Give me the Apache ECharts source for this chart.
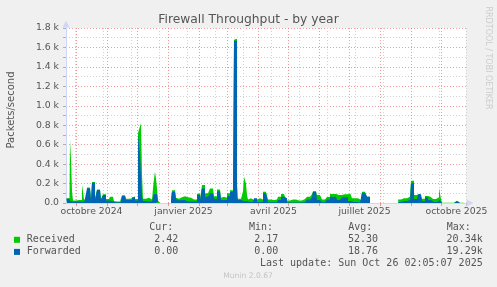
<!DOCTYPE html>
<html><head><meta charset="utf-8">
<script src="https://cdn.jsdelivr.net/npm/echarts@6/dist/echarts.min.js"></script>
<style>html,body{margin:0;padding:0;background:#f0f0f0;}#c{width:497px;height:287px;}</style>
</head><body><div id="c"></div>
<script>
// first day shown (one value per day, 400 days up to Oct 26 2025)
const START_DATE = '2024-09-21';

// Received packets/s per day (null = no data)
const received = [].concat(
  [50,50,50,50, 650,450, 120, 25,30,25,20,25,30,25,25,30],
  [185,120, 35,35,35, 160,160,160,160, 45, 215,215,215, 50,50],
  [140,140,140,140, 45,45, 90,90,90, 40,40,40, 55,65,60,65,55],
  [20,20,15,20,20,15,20, 35, 80,80,80,80, 45,50,45,40,45,50],
  [70,70,70, 40,40,40, 720,740,790,820,300, 45,45,45, 55,55,55,55],
  [35,35,35, 150,250,322,250,150, 25,25],
  [null,null,null,null,null,null,null,null,null,null,null],
  [45, 130,130,130,130, 55, 55,45,65,50,60,40,55,70,50],
  [60,60,55,60,55, 35,35,35,35,35,35, 95,95,95, 45,45, 185,185,185],
  [100,100,100,100,100, 150,150,150,150, 70,70,70, 140,140,140,140],
  [55,55,65,65,55,55, 100,100,100, 130,130,130,130, 1680,1680,1690, 200],
  [45,45,45,45,45, 120,270,270,200,80],
  [35,40,50,50,35,30,35,45,35,30,40,50,50,35,35, 115,115,115,115,115],
  [35,30,35,30,35,30,35,30,35,30, 65,65,65, 93,93,93,93, 65,65],
  [25,25,25,25,25, 35,35,35,35,35, 25,25,35,25,25,25, 40,40,40,40],
  [65,65,65,65,65, 90, 120,120,120,120, 82,82,82,82,82, 35,35,35,35,35],
  [62,62,62, 93,93,93,93,93,93,93, 82,82,82,82,82, 89,89,89,89,89,89],
  [93,93,93,93, 50,50,50,50,50,50, 30,30,30,30, 115,115,115,115,115, 65,65,65],
  [null,null,null,null,null,null,null,null,null,null,null,null,null,null,
   null,null,null,null,null,null,null,null,null,null,null,null,null,null],
  [35,35,35,35, 50,50,50,50,50, 65,65,65,65, 230,230,230, 82,82,82,82],
  [95,95,95,95, 45,45,45, 72,72,72, 65,65,65,65,65, 40,40,40,40,40, 60,151,151,40],
  [2,2,2,2,2,2,2,2,2,2,2,2,2,2, 22,22, 2,2,2,2,2,2,2,2]
);

// Forwarded packets/s per day (null = no data)
const forwarded = [].concat(
  [45,45,45,45, 20,20, 15, 13,13,15,10,13,15,13,12,13],
  [20,20, 20,20,20, 151,151,151,151, 30, 209,209,209, 35,35],
  [134,134,134,134, 30,30, 82,82,82, 25,25,25, 20,20,20,20,20],
  [8,8,5,8,8,5,8, 20, 72,72,72,72, 30,30,30,25,30,30],
  [60,60,60, 25,25,25, 710,710,490,490,60, 20,20,20, 15,15,15,15],
  [15,15,15, 60,93,93,90,70, 10,10],
  [null,null,null,null,null,null,null,null,null,null,null],
  [30, 117,117,117,117, 40, 30,25,35,20,30,20,25,30,20],
  [15,15,15,15,15, 15,15,15,15,15,15, 85,85,85, 30,30, 150,150,150],
  [65,65,65,65,65, 100,100,100,100, 45,45,45, 122,122,122,122],
  [30,30,30,30,30,30, 70,70,70, 117,117,117,117, 1670,1670,1670, 60],
  [30,30,30,30,30, 20,20,20,20,20],
  [10,10,10,10,10,10,48,48,48,10,10,10,10,10,10, 100,100,100,100,100],
  [8,8,8,8,8,8,8,8,8,8, 30,30,30, 65,65,65,65, 48,48],
  [5,5,5,5,5, 5,5,5,5,5, 5,5,5,5,5,5, 8,8,8,8],
  [35,35,35,35,35, 60, 117,117,117,117, 30,30,30,30,30, 8,8,8,8,8],
  [35,35,35, 65,65,65,65,65,65,65, 30,30,30,30,30, 58,58,58,58,58,58],
  [20,20,20,20, 10,10,10,10,10,10, 5,5,5,5, 106,106,106,106,106, 65,65,65],
  [null,null,null,null,null,null,null,null,null,null,null,null,null,null,
   null,null,null,null,null,null,null,null,null,null,null,null,null,null],
  [10,10,10,10, 20,20,20,20,20, 30,30,30,30, 202,202,202, 40,40,40,40],
  [90,90,90,90, 20,20,20, 58,58,58, 30,30,30,30,30, 10,10,10,10,10, 30,30,30,30],
  [1,1,1,1,1,1,1,1,1,1,1,1,1,1, 20,20, 1,1,1,1,1,1,1,1]
);

const tickLabels = ['octobre 2024', 'janvier 2025', 'avril 2025', 'juillet 2025', 'octobre 2025'];
const tickLabelDates = ['2024-10-16', '2025-01-16', '2025-04-16', '2025-07-16', '2025-10-16'];

const seriesNames = ['Received', 'Forwarded'];
const seriesColors = ['#00cc00', '#0066b3'];
const statHeaders = ['Cur:', 'Min:', 'Avg:', 'Max:'];
const receivedStats = ['2.42', '2.17', '52.30', '20.34k'];
const forwardedStats = ['0.00', '0.00', '18.76', '19.29k'];
const lastUpdate = 'Last update: Sun Oct 26 02:05:07 2025';
const titleText = 'Firewall Throughput - by year';
const yName = 'Packets/second';

const DAY = 86400000;
const t0 = Date.parse(START_DATE + 'T00:00:00Z');
const categories = received.map((_, i) => new Date(t0 + i * DAY).toISOString().slice(0, 10));
const labelMap = {};
tickLabelDates.forEach((d, k) => { labelMap[d] = tickLabels[k]; });
const isMonthStart = (i) => !!categories[i] && categories[i].slice(8) === '01';
const isMinor = (i) => i >= 9 && (i - 9) % 28 === 0 && !isMonthStart(i);

const RED = 'rgba(230,90,90,0.6)';
const GRAY = '#d2d2d2';
const AXIS = '#cfd6f8';
const TXT = '#555';
const SANS = '"DejaVu Sans", sans-serif';
const MONO = '"DejaVu Sans Mono", monospace';

function txt(x, y, s, o) {
  o = o || {};
  return {
    type: 'text', x: x, y: y, rotation: o.rot || 0, silent: true,
    style: {
      text: s, x: 0, y: 0, fill: o.color || TXT,
      font: (o.size || 10) + 'px ' + (o.family || MONO),
      textAlign: o.align || 'left', align: o.align || 'left',
      textVerticalAlign: 'middle', verticalAlign: 'middle'
    }
  };
}

const graphics = [
  txt(248.5, 19.5, titleText, {size: 12.3, family: SANS, align: 'center', color: '#555'}),
  txt(11.5, 110, yName, {size: 10, family: SANS, align: 'center', rot: Math.PI / 2}),
  txt(488.5, 58, 'RRDTOOL / TOBI OETIKER', {size: 8, family: SANS, align: 'center', rot: -Math.PI / 2, color: '#cccccc'}),
  txt(248, 276.5, 'Munin 2.0.67', {size: 7.6, family: SANS, align: 'center', color: '#c4c4c4'}),
  txt(482.7, 263.7, lastUpdate, {align: 'right'})
];
const headerX = [149.3, 249, 348.3, 446.7];
const valueRightX = [178.3, 278.3, 378, 482.7];
statHeaders.forEach((h, k) => graphics.push(txt(headerX[k], 227.8, h)));
[receivedStats, forwardedStats].forEach((row, r) => {
  const y = 239.8 + r * 12.1;
  graphics.push({type: 'rect', silent: true, shape: {x: 14, y: y - 3, width: 6, height: 6}, style: {fill: seriesColors[r]}});
  graphics.push(txt(26.7, y, seriesNames[r]));
  row.forEach((v, k) => graphics.push(txt(valueRightX[k], y, v, {align: 'right'})));
});

const chart = echarts.init(document.getElementById('c'), null, {renderer: 'canvas'});
chart.setOption({
  animation: false,
  backgroundColor: '#f0f0f0',
  grid: {left: 66, right: 31, top: 28, bottom: 84, show: true, backgroundColor: '#ffffff', borderWidth: 0, containLabel: false},
  xAxis: [{
    type: 'category', data: categories, boundaryGap: true,
    axisLine: {show: true, lineStyle: {color: AXIS, width: 1}, symbol: ['none', 'triangle'], symbolSize: [7, 7], symbolOffset: [0, 4]},
    axisTick: {show: true, length: 3, interval: (i) => isMonthStart(i), lineStyle: {color: RED}},
    axisLabel: {show: true, interval: (i, v) => !!labelMap[v], formatter: (v) => labelMap[v] || '',
      margin: 4, fontSize: 9.3, color: TXT, fontFamily: SANS},
    splitLine: {show: true, interval: (i) => isMonthStart(i), lineStyle: {color: RED, type: [1, 2], width: 1}}
  }, {
    type: 'category', data: categories, boundaryGap: true, position: 'bottom',
    axisLine: {show: false}, axisTick: {show: false}, axisLabel: {show: false},
    splitLine: {show: true, interval: (i) => isMinor(i), lineStyle: {color: GRAY, type: [1, 2], width: 1}}
  }],
  yAxis: {
    type: 'value', min: 0, max: 1800, interval: 100,
    axisLine: {show: true, lineStyle: {color: AXIS, width: 1}, symbol: ['none', 'triangle'], symbolSize: [7, 7], symbolOffset: [0, 4]},
    axisTick: {show: true, length: 3, lineStyle: {color: '#b0b0b0'}},
    axisLabel: {margin: 7, fontSize: 9.3, color: TXT, fontFamily: SANS,
      formatter: (v) => (v % 200 ? '' : (v === 0 ? '0.0' : (v / 1000).toFixed(1) + ' k'))},
    splitLine: {show: true, showMinLine: false, lineStyle: {color: [GRAY, RED], type: [1, 2], width: 1}}
  },
  series: [{
    name: seriesNames[0], type: 'line', data: received, step: 'middle', symbol: 'none', connectNulls: false,
    lineStyle: {width: 0}, areaStyle: {color: seriesColors[0], opacity: 1}, z: 2, silent: true
  }, {
    name: seriesNames[1], type: 'line', data: forwarded, step: 'middle', symbol: 'none', connectNulls: false,
    lineStyle: {width: 0}, areaStyle: {color: seriesColors[1], opacity: 1}, z: 3, silent: true
  }],
  graphic: graphics
});
</script>
</body></html>
